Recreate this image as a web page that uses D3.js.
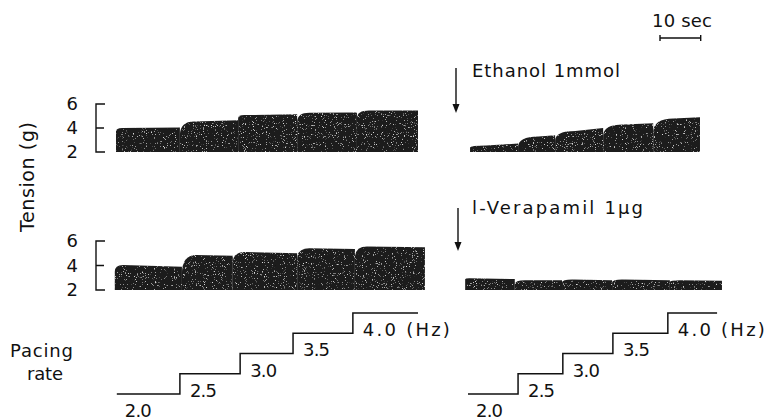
<!DOCTYPE html>
<html>
<head>
<meta charset="utf-8">
<script src="https://cdn.jsdelivr.net/npm/d3@7"></script>
<style>
  html, body { margin: 0; padding: 0; background: #fff; }
  svg text { font-family: "DejaVu Sans", sans-serif; fill: #111; }
</style>
</head>
<body>
<div class="fig"></div>
<script>
// pacing staircase (Hz) and its labels
var rates = [2.0, 2.5, 3.0, 3.5, 4.0];
var rateLabels = ["2.0", "2.5", "3.0", "3.5", "4.0 (Hz)"];
var stepTimesLeft = [0.2, 15.7, 30.5, 43.5, 58.2, 74.2];   // sec, segment edges
var stepTimesRight = [0, 12.3, 23.3, 35.6, 49.1, 61.2];

var tensionTicks = [6, 4, 2];

// tension envelopes (g) per pacing step: value at step start, at end of rise, at step end
var controlTimes = [0, 15.7, 30, 44.5, 59.2, 74.2];
var controlDip   = [3.7, 3.4, 4.8, 4.5, 4.8];
var controlPeak  = [4.0, 4.55, 5.08, 5.28, 5.45];
var controlEnd   = [4.05, 4.65, 5.14, 5.3, 5.45];
var controlRise  = [1.5, 3.5, 1.5, 3, 3];

var ethanolTimes = [0.5, 12.3, 21.4, 33.2, 45.5, 57];
var ethanolDip   = [2.35, 2.4, 2.95, 3.35, 3.6];
var ethanolPeak  = [2.55, 3.3, 3.75, 4.3, 4.8];
var ethanolEnd   = [2.7, 3.4, 4.0, 4.4, 4.9];
var ethanolRise  = [4, 5, 5, 5, 5];

var control2Times = [-0.3, 16.2, 28.7, 44.5, 58.7, 75.9];
var control2Dip   = [3.5, 3.3, 4.2, 4.5, 4.6];
var control2Peak  = [4.05, 4.85, 5.1, 5.4, 5.55];
var control2End   = [3.9, 4.8, 5.0, 5.35, 5.5];
var control2Rise  = [2, 3.5, 3, 3, 3];

var verapTimes = [-0.7, 11.5, 23.1, 35.4, 49.6, 62.4];
var verapDip   = [2.85, 2.45, 2.6, 2.6, 2.65];
var verapPeak  = [2.95, 2.8, 2.85, 2.85, 2.8];
var verapEnd   = [2.9, 2.8, 2.8, 2.8, 2.75];
var verapRise  = [1, 2.5, 2.5, 2.5, 2.5];

var W = 766, H = 420;
var pxPerSec = 4.07;

var svg = d3.select(".fig").append("svg")
    .attr("width", W).attr("height", H)
    .style("display", "block");

var xLeft = d3.scaleLinear().domain([0, 75]).range([116, 116 + 75 * pxPerSec]);
var xRight = d3.scaleLinear().domain([0, 63]).range([468, 468 + 63 * pxPerSec]);
var xBar = d3.scaleLinear().domain([0, 10]).range([660, 660 + 10 * pxPerSec]);
var yRow1 = d3.scaleLinear().domain([2, 6]).range([152, 104]);
var yRow2 = d3.scaleLinear().domain([2, 6]).range([290, 241]);
var yRate = d3.scaleLinear().domain([2, 4]).range([394, 313]);

// speckle texture of the chart recorder trace
var defs = svg.append("defs");
var f = defs.append("filter").attr("id", "grain")
    .attr("x", 0).attr("y", 0).attr("width", 1).attr("height", 1);
f.append("feTurbulence").attr("type", "fractalNoise").attr("baseFrequency", 0.9)
    .attr("numOctaves", 2).attr("seed", 7).attr("result", "n");
f.append("feColorMatrix").attr("in", "n").attr("type", "matrix")
    .attr("values", "0 0 0 0 0.7  0 0 0 0 0.7  0 0 0 0 0.7  6 0 0 0 -3.85")
    .attr("result", "s");
f.append("feComposite").attr("in", "s").attr("in2", "SourceGraphic")
    .attr("operator", "in").attr("result", "sc");
var fm = f.append("feMerge");
fm.append("feMergeNode").attr("in", "SourceGraphic");
fm.append("feMergeNode").attr("in", "sc");

// one filled block per pacing step: drop to the dip, rounded rise to the peak, drift to the end value
function drawTrace(xs, ys, times, dip, peak, end, rise) {
  var g = svg.append("g").attr("filter", "url(#grain)");
  for (var i = 0; i < dip.length; i++) {
    var x0 = xs(times[i]), x1 = xs(times[i + 1]), xr = xs(times[i] + rise[i]);
    var p = d3.path();
    p.moveTo(x0, ys(2));
    p.lineTo(x0, ys(dip[i]));
    p.quadraticCurveTo(x0, ys(peak[i]), xr, ys(peak[i]));
    p.lineTo(x1, ys(end[i]));
    p.lineTo(x1, ys(2));
    p.closePath();
    g.append("path").attr("d", p.toString()).attr("fill", "#1e1e1e");
  }
}

drawTrace(xLeft, yRow1, controlTimes, controlDip, controlPeak, controlEnd, controlRise);
drawTrace(xRight, yRow1, ethanolTimes, ethanolDip, ethanolPeak, ethanolEnd, ethanolRise);
drawTrace(xLeft, yRow2, control2Times, control2Dip, control2Peak, control2End, control2Rise);
drawTrace(xRight, yRow2, verapTimes, verapDip, verapPeak, verapEnd, verapRise);

// tension brackets
[yRow1, yRow2].forEach(function(ys) {
  svg.append("path")
    .attr("d", "M105," + ys(6) + "H96V" + ys(2) + "H105M96," + ys(4) + "H104")
    .attr("fill", "none").attr("stroke", "#111").attr("stroke-width", 1.4);
  svg.selectAll(null).data(tensionTicks).enter().append("text")
    .attr("x", 78).attr("y", function(d) { return ys(d); })
    .attr("dy", "0.36em").attr("text-anchor", "end")
    .style("font-size", "18px")
    .text(function(d) { return d; });
});

svg.append("text")
  .attr("transform", "translate(34,177) rotate(-90)")
  .attr("text-anchor", "middle")
  .attr("textLength", 110).attr("lengthAdjust", "spacing")
  .style("font-size", "19px")
  .text("Tension (g)");

// pacing staircases
function drawSteps(xs, times) {
  var pts = rates.map(function(r, i) { return [times[i], r]; });
  pts.push([times[times.length - 1], rates[rates.length - 1]]);
  svg.append("path")
    .attr("d", d3.line().x(function(d) { return xs(d[0]); })
      .y(function(d) { return yRate(d[1]); })
      .curve(d3.curveStepAfter)(pts))
    .attr("fill", "none").attr("stroke", "#111").attr("stroke-width", 1.5);
  svg.selectAll(null).data(rateLabels).enter().append("text")
    .attr("x", function(d, i) { return xs(times[i]) + (i === 0 ? 8 : 10); })
    .attr("y", function(d, i) { return yRate(rates[i]) + 23; })
    .attr("textLength", function(d) { return d.length > 3 ? 87 : 27; })
    .attr("lengthAdjust", "spacing")
    .style("font-size", "18px")
    .text(function(d) { return d; });
}
drawSteps(xLeft, stepTimesLeft);
drawSteps(xRight, stepTimesRight);

svg.append("text").attr("x", 10).attr("y", 357)
  .attr("textLength", 63).attr("lengthAdjust", "spacing")
  .style("font-size", "18px").text("Pacing");
svg.append("text").attr("x", 27).attr("y", 380)
  .attr("textLength", 36).attr("lengthAdjust", "spacing")
  .style("font-size", "18px").text("rate");

// drug arrows
function arrow(x, y1, y2) {
  svg.append("line").attr("x1", x).attr("x2", x).attr("y1", y1).attr("y2", y2 - 6)
    .attr("stroke", "#111").attr("stroke-width", 1.4);
  svg.append("path")
    .attr("d", "M" + (x - 3.5) + "," + (y2 - 9) + "L" + (x + 3.5) + "," + (y2 - 9) + "L" + x + "," + y2 + "Z")
    .attr("fill", "#111");
}
arrow(456, 68, 113);
arrow(458, 208, 251);

svg.append("text").attr("x", 472).attr("y", 77)
  .attr("textLength", 148).attr("lengthAdjust", "spacing")
  .style("font-size", "18px").text("Ethanol 1mmol");
svg.append("text").attr("x", 472).attr("y", 214)
  .attr("textLength", 171).attr("lengthAdjust", "spacing")
  .style("font-size", "18px").text("l-Verapamil 1\u00b5g");

// time scale bar
svg.append("path")
  .attr("d", "M" + xBar(0) + ",35V41M" + xBar(0) + ",38H" + xBar(10) + "M" + xBar(10) + ",35V41")
  .attr("fill", "none").attr("stroke", "#111").attr("stroke-width", 1.4);
svg.append("text").attr("x", 652).attr("y", 27)
  .attr("textLength", 60).attr("lengthAdjust", "spacing")
  .style("font-size", "18px").text("10 sec");
</script>
</body>
</html>
